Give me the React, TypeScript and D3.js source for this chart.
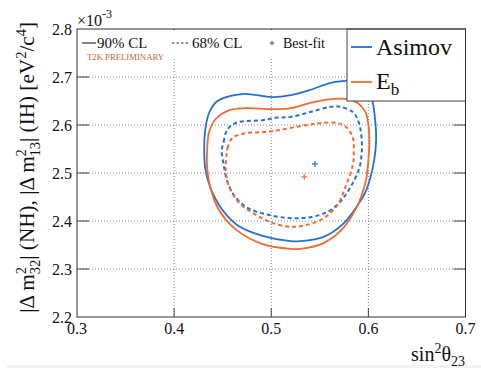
import React from "react";
import * as d3 from "d3";

const X_TICKS = [0.3, 0.4, 0.5, 0.6, 0.7];
const Y_TICKS = [2.2, 2.3, 2.4, 2.5, 2.6, 2.7, 2.8];
const X_GRID = [0.4, 0.5, 0.6];
const Y_GRID = [2.3, 2.4, 2.5, 2.6, 2.7];

// Asimov 90% CL contour (sin^2 theta23, dm2 x1e-3)
const asimov90: [number, number][] = [
  [0.431, 2.548], [0.432, 2.59], [0.436, 2.625], [0.444, 2.649], [0.457, 2.66], [0.473, 2.665],
  [0.501, 2.658], [0.52, 2.662], [0.54, 2.673], [0.561, 2.688], [0.576, 2.692], [0.59, 2.694],
  [0.599, 2.681], [0.604, 2.652], [0.607, 2.61], [0.608, 2.569], [0.606, 2.527], [0.602, 2.49],
  [0.597, 2.46], [0.589, 2.433], [0.574, 2.394], [0.554, 2.367], [0.53, 2.358], [0.52, 2.358],
  [0.491, 2.369], [0.466, 2.39], [0.449, 2.425], [0.437, 2.471], [0.432, 2.51],
];
// E_b 90% CL contour
const eb90: [number, number][] = [
  [0.434, 2.548], [0.436, 2.585], [0.443, 2.613], [0.457, 2.631], [0.473, 2.635], [0.501, 2.633],
  [0.52, 2.635], [0.54, 2.646], [0.561, 2.654], [0.578, 2.654], [0.589, 2.646], [0.597, 2.627],
  [0.6, 2.6], [0.601, 2.565], [0.6, 2.527], [0.598, 2.49], [0.595, 2.465], [0.589, 2.433],
  [0.574, 2.385], [0.554, 2.354], [0.53, 2.342], [0.52, 2.342], [0.491, 2.352], [0.463, 2.383],
  [0.445, 2.427], [0.437, 2.473], [0.434, 2.51],
];
// Asimov 68% CL contour
const asimov68: [number, number][] = [
  [0.449, 2.548], [0.451, 2.565], [0.453, 2.583], [0.457, 2.596], [0.466, 2.606], [0.491, 2.61],
  [0.504, 2.615], [0.52, 2.617], [0.54, 2.627], [0.561, 2.638], [0.571, 2.638], [0.584, 2.627],
  [0.59, 2.606], [0.593, 2.573], [0.593, 2.538], [0.59, 2.506], [0.581, 2.469], [0.571, 2.44],
  [0.558, 2.419], [0.54, 2.408], [0.52, 2.406], [0.497, 2.413], [0.476, 2.427], [0.463, 2.45],
  [0.455, 2.481], [0.451, 2.517],
];
// E_b 68% CL contour
const eb68: [number, number][] = [
  [0.454, 2.538], [0.455, 2.552], [0.46, 2.573], [0.473, 2.583], [0.491, 2.585], [0.504, 2.588],
  [0.52, 2.594], [0.537, 2.6], [0.551, 2.604], [0.568, 2.604], [0.578, 2.594], [0.584, 2.573],
  [0.585, 2.544], [0.584, 2.517], [0.576, 2.469], [0.568, 2.433], [0.554, 2.406], [0.537, 2.392],
  [0.52, 2.388], [0.501, 2.396], [0.484, 2.413], [0.466, 2.44], [0.456, 2.475], [0.453, 2.51],
];
const bestFitAsimov: [number, number] = [0.545, 2.519];
const bestFitEb: [number, number] = [0.534, 2.492];

const BLUE = "#2471d4";
const ORANGE = "#f26a30";
const SERIF = "'Liberation Serif', 'DejaVu Serif', serif";

export default function App() {
  const W = 481, H = 368;
  const x = d3.scaleLinear().domain([0.3, 0.7]).range([77, 465.5]);
  const y = d3.scaleLinear().domain([2.2, 2.8]).range([317, 29]);
  const line = d3
    .line<[number, number]>()
    .x((d) => x(d[0]))
    .y((d) => y(d[1]))
    .curve(d3.curveCatmullRomClosed.alpha(0.5));

  const [x0, x1] = x.range();
  const [y0, y1] = y.range();

  const plus = (cx: number, cy: number, color: string, s = 3) => (
    <g stroke={color} strokeWidth={1.2}>
      <line x1={cx - s} x2={cx + s} y1={cy} y2={cy} />
      <line x1={cx} x2={cx} y1={cy - s} y2={cy + s} />
    </g>
  );

  return (
    <svg
      width={W}
      height={H}
      style={{ position: "absolute", left: 0, top: 0, display: "block", background: "#fff" }}
      fontFamily={SERIF}
    >
      <rect x={7} y={365} width={474} height={3} fill="#f3f3f3" />
      {/* grid */}
      <g stroke="#777" strokeWidth={0.9} strokeDasharray="1,2">
        {Y_GRID.map((v) => (
          <line key={"gy" + v} x1={x0} x2={x1} y1={y(v)} y2={y(v)} />
        ))}
        {X_GRID.map((v) => (
          <line key={"gx" + v} x1={x(v)} x2={x(v)} y1={y1} y2={y0} />
        ))}
      </g>
      {/* ticks */}
      <g stroke="#444" strokeWidth={1}>
        {Y_TICKS.slice(1, -1).map((v) => (
          <g key={"ty" + v}>
            <line x1={x0} x2={x0 + 12} y1={y(v)} y2={y(v)} />
            <line x1={x1 - 12} x2={x1} y1={y(v)} y2={y(v)} />
          </g>
        ))}
        {X_TICKS.slice(1, -1).map((v) => (
          <g key={"tx" + v}>
            <line x1={x(v)} x2={x(v)} y1={y0} y2={y0 - 9} />
            <line x1={x(v)} x2={x(v)} y1={y1} y2={y1 + 9} />
          </g>
        ))}
      </g>
      {/* contours */}
      <g fill="none">
        <path d={line(asimov90) || ""} stroke={BLUE} strokeWidth={1.8} />
        <path d={line(eb90) || ""} stroke={ORANGE} strokeWidth={1.8} />
        <path d={line(asimov68) || ""} stroke={BLUE} strokeWidth={2} strokeDasharray="4,3" />
        <path d={line(eb68) || ""} stroke={ORANGE} strokeWidth={2} strokeDasharray="4,3" />
      </g>
      {plus(x(bestFitAsimov[0]), y(bestFitAsimov[1]), BLUE)}
      {plus(x(bestFitEb[0]), y(bestFitEb[1]), ORANGE)}

      {/* top legend */}
      <rect x={x0 + 1} y={y1 + 1} width={269} height={27} fill="#fff" />
      <line x1={82} x2={96} y1={43} y2={43} stroke="#333" strokeWidth={1.2} />
      <text x={97} y={48} fontSize={15} fill="#111">90% CL</text>
      <line x1={172} x2={188} y1={43} y2={43} stroke="#333" strokeWidth={1.2} strokeDasharray="2.5,2" />
      <text x={192} y={48} fontSize={15} fill="#111">68% CL</text>
      {plus(272, 43, "#666", 2.2)}
      <text x={283} y={48} fontSize={14} fill="#111">Best-fit</text>
      <text x={87} y={60} fontSize={8.5} fill="#c8643c" textLength={77} lengthAdjust="spacingAndGlyphs">
        T2K PRELIMINARY
      </text>

      {/* right legend */}
      <rect x={347} y={y1} width={x1 - 347} height={72} fill="#fff" stroke="#444" strokeWidth={1} />
      <line x1={351} x2={372} y1={47} y2={47} stroke={BLUE} strokeWidth={1.8} />
      <text x={376} y={55} fontSize={24} fill="#111">Asimov</text>
      <line x1={351} x2={372} y1={82} y2={82} stroke={ORANGE} strokeWidth={1.8} />
      <text x={376} y={89} fontSize={24} fill="#111">
        E<tspan fontSize={17} dy={6}>b</tspan>
      </text>

      {/* frame */}
      <rect x={x0} y={y1} width={x1 - x0} height={y0 - y1} fill="none" stroke="#333" strokeWidth={1} />

      {/* tick labels */}
      <g fontSize={16} fill="#111">
        {X_TICKS.map((v) => (
          <text key={"lx" + v} x={x(v)} y={334} textAnchor="middle">
            {d3.format(".1f")(v)}
          </text>
        ))}
        {Y_TICKS.map((v) => (
          <text key={"ly" + v} x={72} y={y(v) + 5.5} textAnchor="end">
            {d3.format(".1f")(v)}
          </text>
        ))}
        <text x={77} y={26}>
          ×10<tspan fontSize={12} dy={-8}>-3</tspan>
        </text>
      </g>

      {/* axis titles */}
      <text x={465} y={361} textAnchor="end" fontSize={20} fill="#111">
        sin<tspan fontSize={14} dy={-8}>2</tspan>
        <tspan dy={8}>θ</tspan>
        <tspan fontSize={14} dy={5}>23</tspan>
      </text>
      <text transform="translate(34,22) rotate(-90)" textAnchor="end" fontSize={21.2} fill="#111">
        |Δ m<tspan fontSize={14.5} dy={-8}>2</tspan>
        <tspan fontSize={14.5} dx={-7.3} dy={14}>32</tspan>
        <tspan dy={-6}>| (NH), |Δ m</tspan>
        <tspan fontSize={14.5} dy={-8}>2</tspan>
        <tspan fontSize={14.5} dx={-7.3} dy={14}>13</tspan>
        <tspan dy={-6}>| (IH) [eV</tspan>
        <tspan fontSize={14.5} dy={-8}>2</tspan>
        <tspan dy={8}>/c</tspan>
        <tspan fontSize={14.5} dy={-8}>4</tspan>
        <tspan dy={8}>]</tspan>
      </text>
    </svg>
  );
}
